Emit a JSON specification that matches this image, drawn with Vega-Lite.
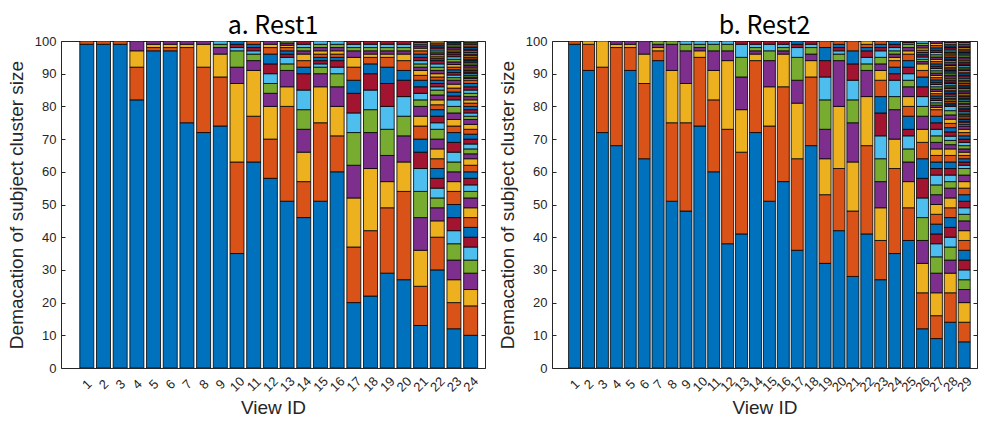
{
"$schema":"https://vega.github.io/schema/vega-lite/v6.json",
"background":"white",
"padding":{"left":6,"top":13,"right":3,"bottom":0},
"spacing":11,
"datasets":{
"rest1":[
{"i":1,"k":1,"v":99},{"i":1,"k":2,"v":1},
{"i":2,"k":1,"v":99},{"i":2,"k":2,"v":1},
{"i":3,"k":1,"v":99},{"i":3,"k":2,"v":1},
{"i":4,"k":1,"v":82},{"i":4,"k":2,"v":10},{"i":4,"k":3,"v":5},{"i":4,"k":4,"v":3},
{"i":5,"k":1,"v":97},{"i":5,"k":2,"v":1},{"i":5,"k":3,"v":1},{"i":5,"k":4,"v":1},
{"i":6,"k":1,"v":97},{"i":6,"k":2,"v":1},{"i":6,"k":3,"v":1},{"i":6,"k":4,"v":1},
{"i":7,"k":1,"v":75},{"i":7,"k":2,"v":23},{"i":7,"k":3,"v":1},{"i":7,"k":4,"v":1},
{"i":8,"k":1,"v":72},{"i":8,"k":2,"v":20},{"i":8,"k":3,"v":7},{"i":8,"k":4,"v":1},
{"i":9,"k":1,"v":74},{"i":9,"k":2,"v":15},{"i":9,"k":3,"v":7},{"i":9,"k":4,"v":2},{"i":9,"k":5,"v":1},{"i":9,"k":6,"v":1},
{"i":10,"k":1,"v":35},{"i":10,"k":2,"v":28},{"i":10,"k":3,"v":24},{"i":10,"k":4,"v":5},{"i":10,"k":5,"v":5},{"i":10,"k":6,"v":1},{"i":10,"k":7,"v":1},{"i":10,"k":8,"v":1},
{"i":11,"k":1,"v":63},{"i":11,"k":2,"v":14},{"i":11,"k":3,"v":14},{"i":11,"k":4,"v":3},{"i":11,"k":5,"v":2},{"i":11,"k":6,"v":1},{"i":11,"k":7,"v":1},{"i":11,"k":8,"v":1},{"i":11,"k":9,"v":1},
{"i":12,"k":1,"v":58},{"i":12,"k":2,"v":12},{"i":12,"k":3,"v":10},{"i":12,"k":4,"v":4},{"i":12,"k":5,"v":3},{"i":12,"k":6,"v":3},{"i":12,"k":7,"v":3},{"i":12,"k":8,"v":3},{"i":12,"k":9,"v":2},{"i":12,"k":10,"v":1},{"i":12,"k":11,"v":1},
{"i":13,"k":1,"v":51},{"i":13,"k":2,"v":29},{"i":13,"k":3,"v":6},{"i":13,"k":4,"v":5},{"i":13,"k":5,"v":2},{"i":13,"k":6,"v":2},{"i":13,"k":7,"v":1},{"i":13,"k":8,"v":1},{"i":13,"k":9,"v":1},{"i":13,"k":10,"v":0.7},{"i":13,"k":11,"v":0.7},{"i":13,"k":12,"v":0.6},
{"i":14,"k":1,"v":46},{"i":14,"k":2,"v":11},{"i":14,"k":3,"v":9},{"i":14,"k":4,"v":7},{"i":14,"k":5,"v":6},{"i":14,"k":6,"v":6},{"i":14,"k":7,"v":5},{"i":14,"k":8,"v":2},{"i":14,"k":9,"v":2},{"i":14,"k":10,"v":2},{"i":14,"k":11,"v":1},{"i":14,"k":12,"v":1},{"i":14,"k":13,"v":1},{"i":14,"k":14,"v":1},
{"i":15,"k":1,"v":51},{"i":15,"k":2,"v":24},{"i":15,"k":3,"v":11},{"i":15,"k":4,"v":4},{"i":15,"k":5,"v":2},{"i":15,"k":6,"v":1},{"i":15,"k":7,"v":1},{"i":15,"k":8,"v":1},{"i":15,"k":9,"v":1},{"i":15,"k":10,"v":1},{"i":15,"k":11,"v":1},{"i":15,"k":12,"v":1},{"i":15,"k":13,"v":1},
{"i":16,"k":1,"v":60},{"i":16,"k":2,"v":11},{"i":16,"k":3,"v":9},{"i":16,"k":4,"v":6},{"i":16,"k":5,"v":4},{"i":16,"k":6,"v":2},{"i":16,"k":7,"v":2},{"i":16,"k":8,"v":1},{"i":16,"k":9,"v":1},{"i":16,"k":10,"v":1},{"i":16,"k":11,"v":1},{"i":16,"k":12,"v":1},{"i":16,"k":13,"v":1},
{"i":17,"k":1,"v":20},{"i":17,"k":2,"v":17},{"i":17,"k":3,"v":15},{"i":17,"k":4,"v":10},{"i":17,"k":5,"v":10},{"i":17,"k":6,"v":6},{"i":17,"k":7,"v":6},{"i":17,"k":8,"v":4},{"i":17,"k":9,"v":4},{"i":17,"k":10,"v":3},{"i":17,"k":11,"v":2},{"i":17,"k":12,"v":1},{"i":17,"k":13,"v":1},{"i":17,"k":14,"v":1},
{"i":18,"k":1,"v":22},{"i":18,"k":2,"v":20},{"i":18,"k":3,"v":19},{"i":18,"k":4,"v":11},{"i":18,"k":5,"v":7},{"i":18,"k":6,"v":6},{"i":18,"k":7,"v":5},{"i":18,"k":8,"v":3},{"i":18,"k":9,"v":2},{"i":18,"k":10,"v":1},{"i":18,"k":11,"v":1},{"i":18,"k":12,"v":1},{"i":18,"k":13,"v":1},{"i":18,"k":14,"v":1},
{"i":19,"k":1,"v":29},{"i":19,"k":2,"v":20},{"i":19,"k":3,"v":8},{"i":19,"k":4,"v":8},{"i":19,"k":5,"v":8},{"i":19,"k":6,"v":7},{"i":19,"k":7,"v":7},{"i":19,"k":8,"v":5},{"i":19,"k":9,"v":3},{"i":19,"k":10,"v":1},{"i":19,"k":11,"v":1},{"i":19,"k":12,"v":1},{"i":19,"k":13,"v":1},{"i":19,"k":14,"v":1},
{"i":20,"k":1,"v":27},{"i":20,"k":2,"v":27},{"i":20,"k":3,"v":9},{"i":20,"k":4,"v":8},{"i":20,"k":5,"v":6},{"i":20,"k":6,"v":6},{"i":20,"k":7,"v":5},{"i":20,"k":8,"v":3},{"i":20,"k":9,"v":3},{"i":20,"k":10,"v":2},{"i":20,"k":11,"v":1},{"i":20,"k":12,"v":1},{"i":20,"k":13,"v":1},{"i":20,"k":14,"v":1},
{"i":21,"k":1,"v":13},{"i":21,"k":2,"v":12},{"i":21,"k":3,"v":11},{"i":21,"k":4,"v":10},{"i":21,"k":5,"v":8},{"i":21,"k":6,"v":7},{"i":21,"k":7,"v":5},{"i":21,"k":8,"v":4},{"i":21,"k":9,"v":4},{"i":21,"k":10,"v":3},{"i":21,"k":11,"v":3},{"i":21,"k":12,"v":2},{"i":21,"k":13,"v":2},{"i":21,"k":14,"v":2},{"i":21,"k":15,"v":2},{"i":21,"k":16,"v":1.5},{"i":21,"k":17,"v":1.5},{"i":21,"k":18,"v":1},{"i":21,"k":19,"v":1},{"i":21,"k":20,"v":1},{"i":21,"k":21,"v":1},{"i":21,"k":22,"v":1},{"i":21,"k":23,"v":1},{"i":21,"k":24,"v":0.8},{"i":21,"k":25,"v":0.7},{"i":21,"k":26,"v":0.5},{"i":21,"k":27,"v":0.5},{"i":21,"k":28,"v":0.5},
{"i":22,"k":1,"v":30},{"i":22,"k":2,"v":10},{"i":22,"k":3,"v":5},{"i":22,"k":4,"v":4},{"i":22,"k":5,"v":3},{"i":22,"k":6,"v":3},{"i":22,"k":7,"v":3},{"i":22,"k":8,"v":3},{"i":22,"k":9,"v":3},{"i":22,"k":10,"v":3},{"i":22,"k":11,"v":3},{"i":22,"k":12,"v":3},{"i":22,"k":13,"v":2},{"i":22,"k":14,"v":2},{"i":22,"k":15,"v":2},{"i":22,"k":16,"v":1.5},{"i":22,"k":17,"v":1.5},{"i":22,"k":18,"v":1.5},{"i":22,"k":19,"v":1.5},{"i":22,"k":20,"v":1},{"i":22,"k":21,"v":1},{"i":22,"k":22,"v":1},{"i":22,"k":23,"v":1},{"i":22,"k":24,"v":1},{"i":22,"k":25,"v":1},{"i":22,"k":26,"v":1},{"i":22,"k":27,"v":1},{"i":22,"k":28,"v":1},{"i":22,"k":29,"v":0.6},{"i":22,"k":30,"v":0.6},{"i":22,"k":31,"v":0.6},{"i":22,"k":32,"v":0.6},{"i":22,"k":33,"v":0.6},{"i":22,"k":34,"v":0.6},{"i":22,"k":35,"v":0.6},{"i":22,"k":36,"v":0.6},{"i":22,"k":37,"v":0.6},{"i":22,"k":38,"v":0.6},
{"i":23,"k":1,"v":12},{"i":23,"k":2,"v":8},{"i":23,"k":3,"v":7},{"i":23,"k":4,"v":6},{"i":23,"k":5,"v":5},{"i":23,"k":6,"v":4},{"i":23,"k":7,"v":4},{"i":23,"k":8,"v":4},{"i":23,"k":9,"v":4},{"i":23,"k":10,"v":3},{"i":23,"k":11,"v":3},{"i":23,"k":12,"v":3},{"i":23,"k":13,"v":3},{"i":23,"k":14,"v":3},{"i":23,"k":15,"v":3},{"i":23,"k":16,"v":2},{"i":23,"k":17,"v":2},{"i":23,"k":18,"v":2},{"i":23,"k":19,"v":2},{"i":23,"k":20,"v":2},{"i":23,"k":21,"v":1.2},{"i":23,"k":22,"v":1.2},{"i":23,"k":23,"v":1.2},{"i":23,"k":24,"v":1.2},{"i":23,"k":25,"v":1.2},{"i":23,"k":26,"v":0.8},{"i":23,"k":27,"v":0.8},{"i":23,"k":28,"v":0.8},{"i":23,"k":29,"v":0.8},{"i":23,"k":30,"v":0.8},{"i":23,"k":31,"v":0.8},{"i":23,"k":32,"v":0.8},{"i":23,"k":33,"v":0.8},{"i":23,"k":34,"v":0.8},{"i":23,"k":35,"v":0.8},{"i":23,"k":36,"v":0.5},{"i":23,"k":37,"v":0.5},{"i":23,"k":38,"v":0.5},{"i":23,"k":39,"v":0.5},{"i":23,"k":40,"v":0.5},{"i":23,"k":41,"v":0.5},{"i":23,"k":42,"v":0.5},{"i":23,"k":43,"v":0.5},
{"i":24,"k":1,"v":10},{"i":24,"k":2,"v":9},{"i":24,"k":3,"v":5},{"i":24,"k":4,"v":5},{"i":24,"k":5,"v":4},{"i":24,"k":6,"v":4},{"i":24,"k":7,"v":3},{"i":24,"k":8,"v":3},{"i":24,"k":9,"v":3},{"i":24,"k":10,"v":3},{"i":24,"k":11,"v":3},{"i":24,"k":12,"v":2},{"i":24,"k":13,"v":2},{"i":24,"k":14,"v":2},{"i":24,"k":15,"v":2},{"i":24,"k":16,"v":2},{"i":24,"k":17,"v":2},{"i":24,"k":18,"v":1.5},{"i":24,"k":19,"v":1.5},{"i":24,"k":20,"v":1.5},{"i":24,"k":21,"v":1.5},{"i":24,"k":22,"v":1.5},{"i":24,"k":23,"v":1.5},{"i":24,"k":24,"v":1.5},{"i":24,"k":25,"v":1.5},{"i":24,"k":26,"v":1},{"i":24,"k":27,"v":1},{"i":24,"k":28,"v":1},{"i":24,"k":29,"v":1},{"i":24,"k":30,"v":1},{"i":24,"k":31,"v":1},{"i":24,"k":32,"v":1},{"i":24,"k":33,"v":1},{"i":24,"k":34,"v":1},{"i":24,"k":35,"v":1},{"i":24,"k":36,"v":1},{"i":24,"k":37,"v":1},{"i":24,"k":38,"v":0.5},{"i":24,"k":39,"v":0.5},{"i":24,"k":40,"v":0.5},{"i":24,"k":41,"v":0.5},{"i":24,"k":42,"v":0.5},{"i":24,"k":43,"v":0.5},{"i":24,"k":44,"v":0.5},{"i":24,"k":45,"v":0.5},{"i":24,"k":46,"v":0.5},{"i":24,"k":47,"v":0.5},{"i":24,"k":48,"v":0.5},{"i":24,"k":49,"v":0.5},{"i":24,"k":50,"v":0.5},{"i":24,"k":51,"v":0.5},{"i":24,"k":52,"v":0.5},{"i":24,"k":53,"v":0.5},{"i":24,"k":54,"v":0.5},{"i":24,"k":55,"v":0.5},{"i":24,"k":56,"v":0.5},{"i":24,"k":57,"v":0.5},{"i":24,"k":58,"v":0.5},{"i":24,"k":59,"v":0.5},{"i":24,"k":60,"v":0.5},{"i":24,"k":61,"v":0.5}
],
"rest2":[
{"i":1,"k":1,"v":99},{"i":1,"k":2,"v":1},
{"i":2,"k":1,"v":91},{"i":2,"k":2,"v":8},{"i":2,"k":3,"v":1},
{"i":3,"k":1,"v":72},{"i":3,"k":2,"v":20},{"i":3,"k":3,"v":8},
{"i":4,"k":1,"v":68},{"i":4,"k":2,"v":30},{"i":4,"k":3,"v":1},{"i":4,"k":4,"v":1},
{"i":5,"k":1,"v":91},{"i":5,"k":2,"v":7},{"i":5,"k":3,"v":1},{"i":5,"k":4,"v":1},
{"i":6,"k":1,"v":64},{"i":6,"k":2,"v":23},{"i":6,"k":3,"v":9},{"i":6,"k":4,"v":4},
{"i":7,"k":1,"v":94},{"i":7,"k":2,"v":3},{"i":7,"k":3,"v":1},{"i":7,"k":4,"v":1},{"i":7,"k":5,"v":1},
{"i":8,"k":1,"v":51},{"i":8,"k":2,"v":24},{"i":8,"k":3,"v":16},{"i":8,"k":4,"v":8},{"i":8,"k":5,"v":1},
{"i":9,"k":1,"v":48},{"i":9,"k":2,"v":27},{"i":9,"k":3,"v":12},{"i":9,"k":4,"v":10},{"i":9,"k":5,"v":2},{"i":9,"k":6,"v":1},
{"i":10,"k":1,"v":74},{"i":10,"k":2,"v":21},{"i":10,"k":3,"v":2},{"i":10,"k":4,"v":1},{"i":10,"k":5,"v":1},{"i":10,"k":6,"v":1},
{"i":11,"k":1,"v":60},{"i":11,"k":2,"v":22},{"i":11,"k":3,"v":9},{"i":11,"k":4,"v":6},{"i":11,"k":5,"v":2},{"i":11,"k":6,"v":1},
{"i":12,"k":1,"v":38},{"i":12,"k":2,"v":35},{"i":12,"k":3,"v":21},{"i":12,"k":4,"v":3},{"i":12,"k":5,"v":2},{"i":12,"k":6,"v":1},
{"i":13,"k":1,"v":41},{"i":13,"k":2,"v":25},{"i":13,"k":3,"v":13},{"i":13,"k":4,"v":10},{"i":13,"k":5,"v":6},{"i":13,"k":6,"v":4},{"i":13,"k":7,"v":1},
{"i":14,"k":1,"v":72},{"i":14,"k":2,"v":22},{"i":14,"k":3,"v":2},{"i":14,"k":4,"v":1},{"i":14,"k":5,"v":1},{"i":14,"k":6,"v":1},{"i":14,"k":7,"v":1},
{"i":15,"k":1,"v":51},{"i":15,"k":2,"v":23},{"i":15,"k":3,"v":12},{"i":15,"k":4,"v":8},{"i":15,"k":5,"v":3},{"i":15,"k":6,"v":2},{"i":15,"k":7,"v":1},
{"i":16,"k":1,"v":57},{"i":16,"k":2,"v":29},{"i":16,"k":3,"v":10},{"i":16,"k":4,"v":1},{"i":16,"k":5,"v":1},{"i":16,"k":6,"v":1},{"i":16,"k":7,"v":1},
{"i":17,"k":1,"v":36},{"i":17,"k":2,"v":28},{"i":17,"k":3,"v":17},{"i":17,"k":4,"v":7},{"i":17,"k":5,"v":7},{"i":17,"k":6,"v":3},{"i":17,"k":7,"v":1},{"i":17,"k":8,"v":1},
{"i":18,"k":1,"v":68},{"i":18,"k":2,"v":21},{"i":18,"k":3,"v":5},{"i":18,"k":4,"v":2},{"i":18,"k":5,"v":2},{"i":18,"k":6,"v":1},{"i":18,"k":7,"v":1},
{"i":19,"k":1,"v":32},{"i":19,"k":2,"v":21},{"i":19,"k":3,"v":11},{"i":19,"k":4,"v":9},{"i":19,"k":5,"v":9},{"i":19,"k":6,"v":7},{"i":19,"k":7,"v":5},{"i":19,"k":8,"v":4},{"i":19,"k":9,"v":2},
{"i":20,"k":1,"v":42},{"i":20,"k":2,"v":19},{"i":20,"k":3,"v":19},{"i":20,"k":4,"v":14},{"i":20,"k":5,"v":2},{"i":20,"k":6,"v":1},{"i":20,"k":7,"v":1},{"i":20,"k":8,"v":1},{"i":20,"k":9,"v":1},
{"i":21,"k":1,"v":28},{"i":21,"k":2,"v":20},{"i":21,"k":3,"v":15},{"i":21,"k":4,"v":12},{"i":21,"k":5,"v":7},{"i":21,"k":6,"v":6},{"i":21,"k":7,"v":5},{"i":21,"k":8,"v":4},{"i":21,"k":9,"v":3},
{"i":22,"k":1,"v":41},{"i":22,"k":2,"v":27},{"i":22,"k":3,"v":15},{"i":22,"k":4,"v":8},{"i":22,"k":5,"v":2},{"i":22,"k":6,"v":2},{"i":22,"k":7,"v":2},{"i":22,"k":8,"v":1},{"i":22,"k":9,"v":1},{"i":22,"k":10,"v":1},
{"i":23,"k":1,"v":27},{"i":23,"k":2,"v":12},{"i":23,"k":3,"v":10},{"i":23,"k":4,"v":8},{"i":23,"k":5,"v":7},{"i":23,"k":6,"v":7},{"i":23,"k":7,"v":7},{"i":23,"k":8,"v":5},{"i":23,"k":9,"v":5},{"i":23,"k":10,"v":3},{"i":23,"k":11,"v":2},{"i":23,"k":12,"v":2},{"i":23,"k":13,"v":2},{"i":23,"k":14,"v":1},{"i":23,"k":15,"v":1},{"i":23,"k":16,"v":1},
{"i":24,"k":1,"v":35},{"i":24,"k":2,"v":26},{"i":24,"k":3,"v":9},{"i":24,"k":4,"v":9},{"i":24,"k":5,"v":4},{"i":24,"k":6,"v":5},{"i":24,"k":7,"v":2},{"i":24,"k":8,"v":2},{"i":24,"k":9,"v":2},{"i":24,"k":10,"v":1},{"i":24,"k":11,"v":1},{"i":24,"k":12,"v":1},{"i":24,"k":13,"v":1},{"i":24,"k":14,"v":1},{"i":24,"k":15,"v":1},
{"i":25,"k":1,"v":39},{"i":25,"k":2,"v":10},{"i":25,"k":3,"v":8},{"i":25,"k":4,"v":6},{"i":25,"k":5,"v":4},{"i":25,"k":6,"v":4},{"i":25,"k":7,"v":2},{"i":25,"k":8,"v":4},{"i":25,"k":9,"v":3},{"i":25,"k":10,"v":3},{"i":25,"k":11,"v":3},{"i":25,"k":12,"v":2},{"i":25,"k":13,"v":2},{"i":25,"k":14,"v":2},{"i":25,"k":15,"v":2},{"i":25,"k":16,"v":2},{"i":25,"k":17,"v":1},{"i":25,"k":18,"v":1},{"i":25,"k":19,"v":1},{"i":25,"k":20,"v":0.5},{"i":25,"k":21,"v":0.5},
{"i":26,"k":1,"v":12},{"i":26,"k":2,"v":11},{"i":26,"k":3,"v":9},{"i":26,"k":4,"v":7},{"i":26,"k":5,"v":7},{"i":26,"k":6,"v":6},{"i":26,"k":7,"v":6},{"i":26,"k":8,"v":6},{"i":26,"k":9,"v":5},{"i":26,"k":10,"v":4},{"i":26,"k":11,"v":4},{"i":26,"k":12,"v":3},{"i":26,"k":13,"v":3},{"i":26,"k":14,"v":3},{"i":26,"k":15,"v":3},{"i":26,"k":16,"v":2},{"i":26,"k":17,"v":2},{"i":26,"k":18,"v":0.7},{"i":26,"k":19,"v":0.7},{"i":26,"k":20,"v":0.7},{"i":26,"k":21,"v":0.7},{"i":26,"k":22,"v":0.7},{"i":26,"k":23,"v":0.7},{"i":26,"k":24,"v":0.7},{"i":26,"k":25,"v":0.7},{"i":26,"k":26,"v":0.7},{"i":26,"k":27,"v":0.7},
{"i":27,"k":1,"v":9},{"i":27,"k":2,"v":7},{"i":27,"k":3,"v":7},{"i":27,"k":4,"v":6},{"i":27,"k":5,"v":5},{"i":27,"k":6,"v":4},{"i":27,"k":7,"v":3},{"i":27,"k":8,"v":3},{"i":27,"k":9,"v":3},{"i":27,"k":10,"v":3},{"i":27,"k":11,"v":3},{"i":27,"k":12,"v":3},{"i":27,"k":13,"v":3},{"i":27,"k":14,"v":2},{"i":27,"k":15,"v":2},{"i":27,"k":16,"v":2},{"i":27,"k":17,"v":2},{"i":27,"k":18,"v":2},{"i":27,"k":19,"v":2},{"i":27,"k":20,"v":2},{"i":27,"k":21,"v":2},{"i":27,"k":22,"v":2},{"i":27,"k":23,"v":2},{"i":27,"k":24,"v":0.7},{"i":27,"k":25,"v":0.7},{"i":27,"k":26,"v":0.7},{"i":27,"k":27,"v":0.7},{"i":27,"k":28,"v":0.7},{"i":27,"k":29,"v":0.7},{"i":27,"k":30,"v":0.7},{"i":27,"k":31,"v":0.7},{"i":27,"k":32,"v":0.7},{"i":27,"k":33,"v":0.7},{"i":27,"k":34,"v":0.7},{"i":27,"k":35,"v":0.7},{"i":27,"k":36,"v":0.7},{"i":27,"k":37,"v":0.7},{"i":27,"k":38,"v":0.7},{"i":27,"k":39,"v":0.7},{"i":27,"k":40,"v":0.7},{"i":27,"k":41,"v":0.7},{"i":27,"k":42,"v":0.7},{"i":27,"k":43,"v":0.7},{"i":27,"k":44,"v":0.7},{"i":27,"k":45,"v":0.7},{"i":27,"k":46,"v":0.7},{"i":27,"k":47,"v":0.7},{"i":27,"k":48,"v":0.7},{"i":27,"k":49,"v":0.7},{"i":27,"k":50,"v":0.7},{"i":27,"k":51,"v":0.7},{"i":27,"k":52,"v":0.7},{"i":27,"k":53,"v":0.7},
{"i":28,"k":1,"v":14},{"i":28,"k":2,"v":9},{"i":28,"k":3,"v":6},{"i":28,"k":4,"v":4},{"i":28,"k":5,"v":4},{"i":28,"k":6,"v":3},{"i":28,"k":7,"v":3},{"i":28,"k":8,"v":3},{"i":28,"k":9,"v":3},{"i":28,"k":10,"v":3},{"i":28,"k":11,"v":3},{"i":28,"k":12,"v":2},{"i":28,"k":13,"v":2},{"i":28,"k":14,"v":2},{"i":28,"k":15,"v":2},{"i":28,"k":16,"v":2},{"i":28,"k":17,"v":2},{"i":28,"k":18,"v":1.3},{"i":28,"k":19,"v":1.3},{"i":28,"k":20,"v":1.3},{"i":28,"k":21,"v":1.3},{"i":28,"k":22,"v":1.3},{"i":28,"k":23,"v":1.3},{"i":28,"k":24,"v":1.3},{"i":28,"k":25,"v":1.3},{"i":28,"k":26,"v":1.3},{"i":28,"k":27,"v":1.3},{"i":28,"k":28,"v":0.5},{"i":28,"k":29,"v":0.5},{"i":28,"k":30,"v":0.5},{"i":28,"k":31,"v":0.5},{"i":28,"k":32,"v":0.5},{"i":28,"k":33,"v":0.5},{"i":28,"k":34,"v":0.5},{"i":28,"k":35,"v":0.5},{"i":28,"k":36,"v":0.5},{"i":28,"k":37,"v":0.5},{"i":28,"k":38,"v":0.5},{"i":28,"k":39,"v":0.5},{"i":28,"k":40,"v":0.5},{"i":28,"k":41,"v":0.5},{"i":28,"k":42,"v":0.5},{"i":28,"k":43,"v":0.5},{"i":28,"k":44,"v":0.5},{"i":28,"k":45,"v":0.5},{"i":28,"k":46,"v":0.5},{"i":28,"k":47,"v":0.5},{"i":28,"k":48,"v":0.5},{"i":28,"k":49,"v":0.5},{"i":28,"k":50,"v":0.5},{"i":28,"k":51,"v":0.5},{"i":28,"k":52,"v":0.5},{"i":28,"k":53,"v":0.5},{"i":28,"k":54,"v":0.5},{"i":28,"k":55,"v":0.5},{"i":28,"k":56,"v":0.5},{"i":28,"k":57,"v":0.5},{"i":28,"k":58,"v":0.5},{"i":28,"k":59,"v":0.5},{"i":28,"k":60,"v":0.5},{"i":28,"k":61,"v":0.5},{"i":28,"k":62,"v":0.5},{"i":28,"k":63,"v":0.5},{"i":28,"k":64,"v":0.5},{"i":28,"k":65,"v":0.5},{"i":28,"k":66,"v":0.5},{"i":28,"k":67,"v":0.5},
{"i":29,"k":1,"v":8},{"i":29,"k":2,"v":6},{"i":29,"k":3,"v":6},{"i":29,"k":4,"v":4},{"i":29,"k":5,"v":3},{"i":29,"k":6,"v":3},{"i":29,"k":7,"v":3},{"i":29,"k":8,"v":3},{"i":29,"k":9,"v":3},{"i":29,"k":10,"v":3},{"i":29,"k":11,"v":3},{"i":29,"k":12,"v":2},{"i":29,"k":13,"v":2},{"i":29,"k":14,"v":2},{"i":29,"k":15,"v":2},{"i":29,"k":16,"v":2},{"i":29,"k":17,"v":2},{"i":29,"k":18,"v":2},{"i":29,"k":19,"v":2},{"i":29,"k":20,"v":1},{"i":29,"k":21,"v":1},{"i":29,"k":22,"v":1},{"i":29,"k":23,"v":1},{"i":29,"k":24,"v":1},{"i":29,"k":25,"v":1},{"i":29,"k":26,"v":1},{"i":29,"k":27,"v":1},{"i":29,"k":28,"v":1},{"i":29,"k":29,"v":1},{"i":29,"k":30,"v":1},{"i":29,"k":31,"v":1},{"i":29,"k":32,"v":1},{"i":29,"k":33,"v":0.5},{"i":29,"k":34,"v":0.5},{"i":29,"k":35,"v":0.5},{"i":29,"k":36,"v":0.5},{"i":29,"k":37,"v":0.5},{"i":29,"k":38,"v":0.5},{"i":29,"k":39,"v":0.5},{"i":29,"k":40,"v":0.5},{"i":29,"k":41,"v":0.5},{"i":29,"k":42,"v":0.5},{"i":29,"k":43,"v":0.5},{"i":29,"k":44,"v":0.5},{"i":29,"k":45,"v":0.5},{"i":29,"k":46,"v":0.5},{"i":29,"k":47,"v":0.5},{"i":29,"k":48,"v":0.5},{"i":29,"k":49,"v":0.5},{"i":29,"k":50,"v":0.5},{"i":29,"k":51,"v":0.5},{"i":29,"k":52,"v":0.5},{"i":29,"k":53,"v":0.5},{"i":29,"k":54,"v":0.5},{"i":29,"k":55,"v":0.5},{"i":29,"k":56,"v":0.5},{"i":29,"k":57,"v":0.5},{"i":29,"k":58,"v":0.5},{"i":29,"k":59,"v":0.5},{"i":29,"k":60,"v":0.5},{"i":29,"k":61,"v":0.5},{"i":29,"k":62,"v":0.5},{"i":29,"k":63,"v":0.5},{"i":29,"k":64,"v":0.5},{"i":29,"k":65,"v":0.5},{"i":29,"k":66,"v":0.5},{"i":29,"k":67,"v":0.5},{"i":29,"k":68,"v":0.5},{"i":29,"k":69,"v":0.5},{"i":29,"k":70,"v":0.5},{"i":29,"k":71,"v":0.5},{"i":29,"k":72,"v":0.5},{"i":29,"k":73,"v":0.5},{"i":29,"k":74,"v":0.5},{"i":29,"k":75,"v":0.5},{"i":29,"k":76,"v":0.5},{"i":29,"k":77,"v":0.5},{"i":29,"k":78,"v":0.5},{"i":29,"k":79,"v":0.5},{"i":29,"k":80,"v":0.5},{"i":29,"k":81,"v":0.5},{"i":29,"k":82,"v":0.5},{"i":29,"k":83,"v":0.5},{"i":29,"k":84,"v":0.5}
]
},
"hconcat":[
{
"width":424,"height":327,
"title":{"text":"a. Rest1"},
"data":{"name":"rest1"},
"layer":[
{
"mark":{"type":"bar","size":14,"stroke":"#000000","strokeWidth":0.8,"clip":true},
"encoding":{
"x":{"field":"i","type":"quantitative","scale":{"domain":[-0.246,24.56],"nice":false,"zero":false},
"axis":{"values":[1,2,3,4,5,6,7,8,9,10,11,12,13,14,15,16,17,18,19,20,21,22,23,24],"title":"View ID"}},
"y":{"field":"v","type":"quantitative","stack":"zero","scale":{"domain":[0,100],"nice":false},
"axis":{"values":[0,10,20,30,40,50,60,70,80,90,100],"title":"Demacation of subject cluster size"}},
"color":{"field":"k","type":"ordinal","scale":{"range":["#0072BD","#D95319","#EDB120","#7E2F8E","#77AC30","#4DBEEE","#A2142F"]},"legend":null},
"order":{"field":"k","type":"quantitative","sort":"ascending"}
}
},
{
"mark":{"type":"point","opacity":0},
"encoding":{
"x":{"field":"i","type":"quantitative","axis":{"orient":"top","labels":false,"title":null,"values":[1,2,3,4,5,6,7,8,9,10,11,12,13,14,15,16,17,18,19,20,21,22,23,24]}},
"y":{"field":"v","type":"quantitative","axis":{"orient":"right","labels":false,"title":null,"values":[0,10,20,30,40,50,60,70,80,90,100]}}
}
}
],
"resolve":{"axis":{"x":"independent","y":"independent"}}
},
{
"width":425,"height":327,
"title":{"text":"b. Rest2"},
"data":{"name":"rest2"},
"layer":[
{
"mark":{"type":"bar","size":12,"stroke":"#000000","strokeWidth":0.8,"clip":true},
"encoding":{
"x":{"field":"i","type":"quantitative","scale":{"domain":[-0.263,29.56],"nice":false,"zero":false},
"axis":{"values":[1,2,3,4,5,6,7,8,9,10,11,12,13,14,15,16,17,18,19,20,21,22,23,24,25,26,27,28,29],"title":"View ID"}},
"y":{"field":"v","type":"quantitative","stack":"zero","scale":{"domain":[0,100],"nice":false},
"axis":{"values":[0,10,20,30,40,50,60,70,80,90,100],"title":"Demacation of subject cluster size"}},
"color":{"field":"k","type":"ordinal","scale":{"range":["#0072BD","#D95319","#EDB120","#7E2F8E","#77AC30","#4DBEEE","#A2142F"]},"legend":null},
"order":{"field":"k","type":"quantitative","sort":"ascending"}
}
},
{
"mark":{"type":"point","opacity":0},
"encoding":{
"x":{"field":"i","type":"quantitative","axis":{"orient":"top","labels":false,"title":null,"values":[1,2,3,4,5,6,7,8,9,10,11,12,13,14,15,16,17,18,19,20,21,22,23,24,25,26,27,28,29]}},
"y":{"field":"v","type":"quantitative","axis":{"orient":"right","labels":false,"title":null,"values":[0,10,20,30,40,50,60,70,80,90,100]}}
}
}
],
"resolve":{"axis":{"x":"independent","y":"independent"}}
}
],
"config":{
"view":{"stroke":"#262626","strokeWidth":1},
"title":{"fontSize":25,"font":"Noto Sans CJK JP","fontWeight":"normal","color":"#000000","offset":-4,"anchor":"middle"},
"axis":{"grid":false,"domain":false,"tickColor":"#262626","tickSize":-4,"labelColor":"#262626","titleColor":"#262626","labelFont":"Liberation Sans","titleFont":"Liberation Sans","labelFontSize":13,"titleFontSize":19,"titleFontWeight":"normal"},
"axisY":{"labelPadding":9,"titlePadding":8},
"axisX":{"labelAngle":-45,"labelAlign":"center","labelBaseline":"middle","labelPadding":20,"titlePadding":4,"labelOverlap":false}
}
}
